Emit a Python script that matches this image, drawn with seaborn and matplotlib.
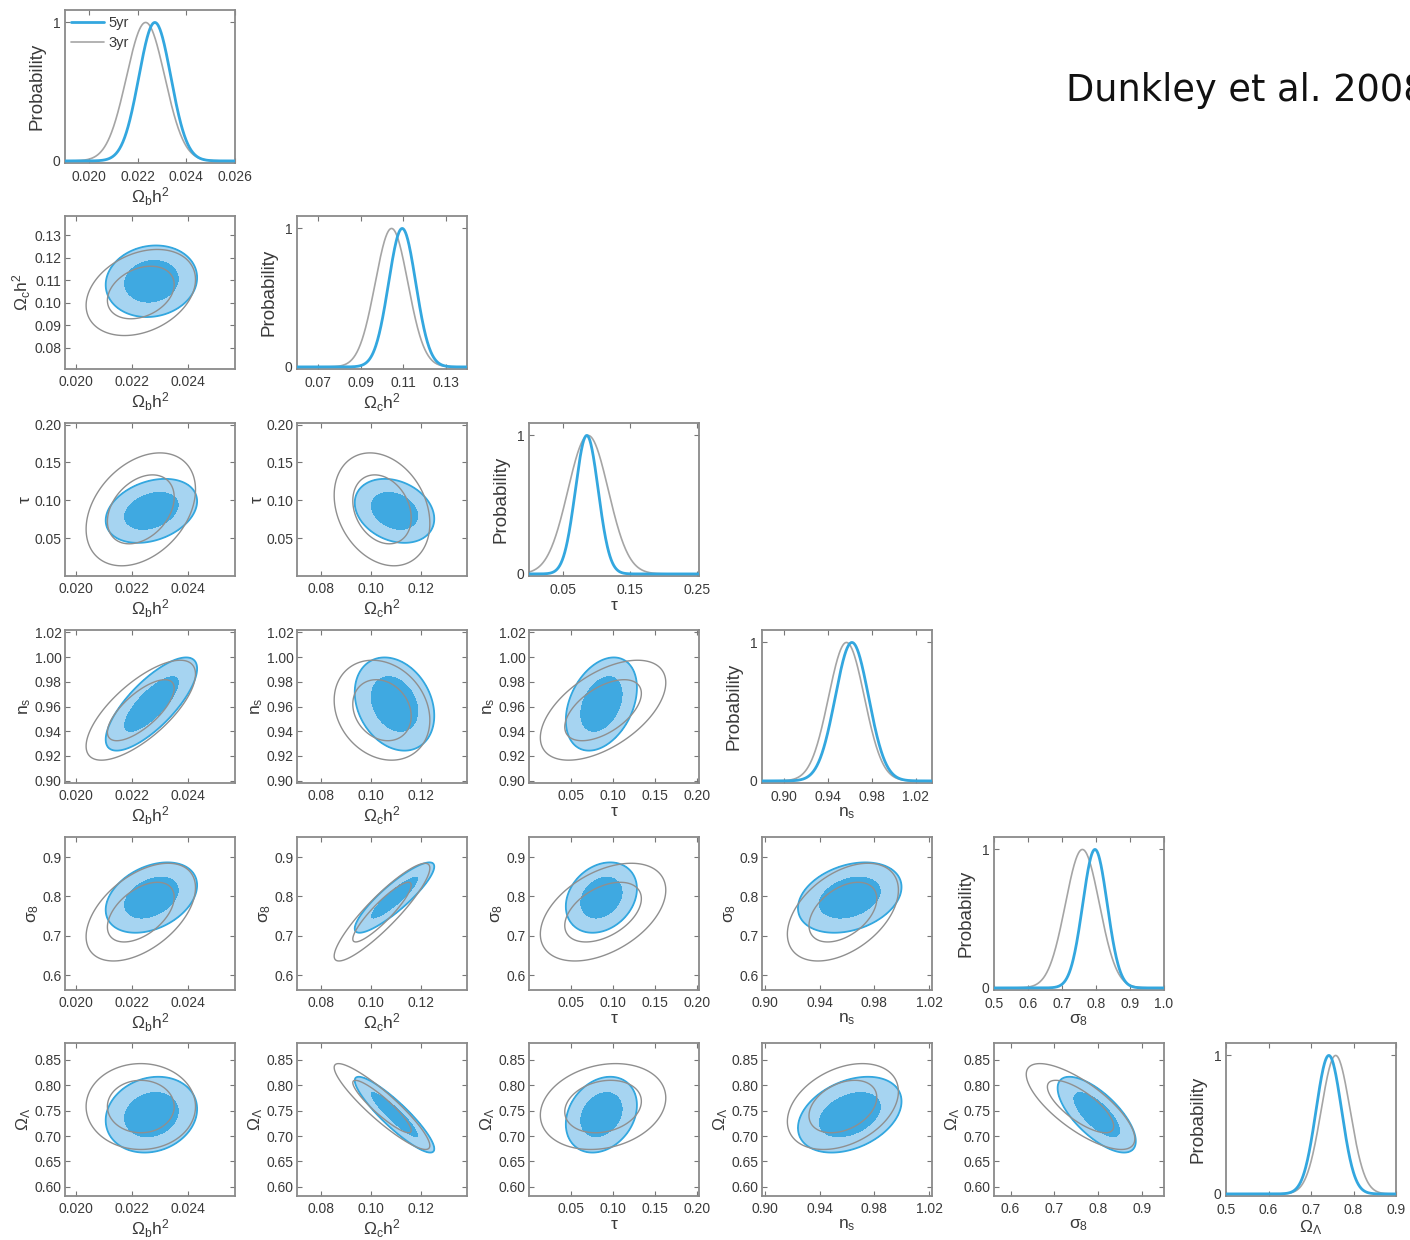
import numpy as np
import matplotlib
matplotlib.use("Agg")
import matplotlib.pyplot as plt
import seaborn as sns

# ---------------- data ----------------
param_labels = [r"$\Omega_{\rm b}h^2$", r"$\Omega_{\rm c}h^2$", r"$\tau$",
                r"$n_{\rm s}$", r"$\sigma_8$", r"$\Omega_\Lambda$"]

mean_5yr = [0.02270, 0.1095, 0.086, 0.962, 0.797, 0.742]
sd_5yr = [0.00066, 0.0064, 0.017, 0.0152, 0.036, 0.030]
mean_3yr = [0.02232, 0.1045, 0.088, 0.957, 0.760, 0.758]
sd_3yr = [0.00079, 0.0077, 0.030, 0.0163, 0.050, 0.034]

# correlations for pairs (row, col): (1,0),(2,0),(2,1),(3,0),(3,1),(3,2),(4,0),...,(5,4)
corr_5yr = [0.10, 0.30, -0.25, 0.76, -0.25, 0.35, 0.35, 0.88, 0.25, 0.30,
            0.15, -0.90, 0.25, 0.35, -0.70]
corr_3yr = [0.30, 0.35, -0.25, 0.72, -0.20, 0.55, 0.50, 0.90, 0.45, 0.45,
            0.00, -0.91, 0.20, 0.35, -0.75]

range_2d = [(0.0196, 0.0257), (0.0705, 0.1385), (0.0, 0.202),
            (0.898, 1.022), (0.562, 0.951), (0.582, 0.883)]
range_1d = [(0.019, 0.026), (0.060, 0.140), (0.0, 0.253),
            (0.880, 1.035), (0.5, 1.0), (0.5, 0.9)]

xticks_2d = [[0.020, 0.022, 0.024], [0.08, 0.10, 0.12], [0.05, 0.10, 0.15, 0.20],
             [0.90, 0.94, 0.98, 1.02], [0.6, 0.7, 0.8, 0.9], []]
xticklabels_2d = [["0.020", "0.022", "0.024"], ["0.08", "0.10", "0.12"],
                  ["0.05", "0.10", "0.15", "0.20"], ["0.90", "0.94", "0.98", "1.02"],
                  ["0.6", "0.7", "0.8", "0.9"], []]
yticks_2d = [[], [0.08, 0.09, 0.10, 0.11, 0.12, 0.13], [0.05, 0.10, 0.15, 0.20],
             [0.90, 0.92, 0.94, 0.96, 0.98, 1.00, 1.02], [0.6, 0.7, 0.8, 0.9],
             [0.60, 0.65, 0.70, 0.75, 0.80, 0.85]]
yticklabels_2d = [[], ["0.08", "0.09", "0.10", "0.11", "0.12", "0.13"],
                  ["0.05", "0.10", "0.15", "0.20"],
                  ["0.90", "0.92", "0.94", "0.96", "0.98", "1.00", "1.02"],
                  ["0.6", "0.7", "0.8", "0.9"],
                  ["0.60", "0.65", "0.70", "0.75", "0.80", "0.85"]]
xticks_1d = [[0.020, 0.022, 0.024, 0.026], [0.07, 0.09, 0.11, 0.13], [0.05, 0.15, 0.25],
             [0.90, 0.94, 0.98, 1.02], [0.5, 0.6, 0.7, 0.8, 0.9, 1.0],
             [0.5, 0.6, 0.7, 0.8, 0.9]]
xticklabels_1d = [["0.020", "0.022", "0.024", "0.026"], ["0.07", "0.09", "0.11", "0.13"],
                  ["0.05", "0.15", "0.25"], ["0.90", "0.94", "0.98", "1.02"],
                  ["0.5", "0.6", "0.7", "0.8", "0.9", "1.0"],
                  ["0.5", "0.6", "0.7", "0.8", "0.9"]]
series_names = ["5yr", "3yr"]
citation = "Dunkley et al. 2008"

# ---------------- style ----------------
sns.set_style("ticks")
plt.rcParams["font.family"] = ["Liberation Sans", "DejaVu Sans"]
plt.rcParams["mathtext.fontset"] = "custom"
plt.rcParams["mathtext.rm"] = "Liberation Sans"
plt.rcParams["mathtext.it"] = "Liberation Sans"
plt.rcParams["mathtext.default"] = "regular"
plt.rcParams.update({
    "xtick.direction": "in", "ytick.direction": "in",
    "xtick.top": True, "ytick.right": True,
    "xtick.major.size": 3.5, "ytick.major.size": 3.5,
    "xtick.major.width": 0.8, "ytick.major.width": 0.8,
    "xtick.color": "#777777", "ytick.color": "#777777",
    "xtick.labelcolor": "#3a3a3a", "ytick.labelcolor": "#3a3a3a",
    "xtick.labelsize": 10, "ytick.labelsize": 10,
    "axes.edgecolor": "#8a8a8a", "axes.linewidth": 1.3,
    "axes.labelcolor": "#3a3a3a", "axes.labelsize": 12.5,
    "xtick.major.pad": 4.0, "ytick.major.pad": 2.5,
})

BLUE = "#33a7df"
DARK_FILL = "#3fa9e1"
LIGHT_FILL = "#a6d4f1"
GRAY = "#8f8f8f"
GRAY1D = "#a5a5a5"

W, H = 1410, 1240
fig = plt.figure(figsize=(W / 100, H / 100), dpi=100)
col_left = [65, 297, 529, 762, 994, 1226]
row_top = [10, 216, 423, 630, 837, 1043]
pw, ph = 170, 153


def make_ax(r, c):
    return fig.add_axes([col_left[c] / W, 1 - (row_top[r] + ph) / H, pw / W, ph / H])


def pair_index(i, j):
    return i * (i - 1) // 2 + j


def chi2_grid(X, Y, mx, my, sx, sy, rho):
    dx = (X - mx) / sx
    dy = (Y - my) / sy
    return (dx * dx - 2 * rho * dx * dy + dy * dy) / (1 - rho * rho)


n = len(param_labels)
for i in range(n):
    for j in range(i + 1):
        ax = make_ax(i, j)
        if i == j:
            lo, hi = range_1d[i]
            xs = np.linspace(lo, hi, 400)
            p5 = np.exp(-0.5 * ((xs - mean_5yr[i]) / sd_5yr[i]) ** 2)
            p3 = np.exp(-0.5 * ((xs - mean_3yr[i]) / sd_3yr[i]) ** 2)
            sns.lineplot(x=xs, y=p5, ax=ax, color=BLUE, linewidth=2.0,
                         label=series_names[0] if i == 0 else None, zorder=3)
            sns.lineplot(x=xs, y=p3, ax=ax, color=GRAY1D, linewidth=1.2,
                         label=series_names[1] if i == 0 else None, zorder=2)
            ax.set_xlim(lo, hi)
            ax.set_ylim(-0.015, 1.09)
            ax.set_xticks(xticks_1d[i])
            ax.set_xticklabels(xticklabels_1d[i])
            ax.set_yticks([0, 1])
            ax.set_yticklabels(["0", "1"])
            ax.tick_params(axis="x", pad=5.0)
            ax.tick_params(axis="y", pad=3.5)
            ax.set_ylabel("Probability", labelpad=5, fontsize=13.5)
            ax.set_xlabel(param_labels[i], labelpad=1)
            if i == 0:
                leg = ax.legend(loc="upper left", frameon=False, fontsize=10.5,
                                handlelength=2.3, handletextpad=0.3,
                                borderaxespad=0.2, labelspacing=0.45,
                                borderpad=0.2)
                for t in leg.get_texts():
                    t.set_color("#3a3a3a")
            elif ax.get_legend() is not None:
                ax.get_legend().remove()
        else:
            xr, yr = range_2d[j], range_2d[i]
            gx = np.linspace(xr[0], xr[1], 400)
            gy = np.linspace(yr[0], yr[1], 400)
            X, Y = np.meshgrid(gx, gy)
            k = pair_index(i, j)
            c5 = chi2_grid(X, Y, mean_5yr[j], mean_5yr[i], sd_5yr[j], sd_5yr[i], corr_5yr[k])
            c3 = chi2_grid(X, Y, mean_3yr[j], mean_3yr[i], sd_3yr[j], sd_3yr[i], corr_3yr[k])
            ax.contourf(X, Y, c5, levels=[0, 2.30, 6.17], colors=[DARK_FILL, LIGHT_FILL], zorder=1)
            ax.contour(X, Y, c5, levels=[6.17], colors=[BLUE], linewidths=1.3, zorder=2)
            ax.contour(X, Y, c3, levels=[2.30, 6.17], colors=[GRAY], linewidths=1.0, zorder=3)
            ax.set_xlim(*xr)
            ax.set_ylim(*yr)
            ax.set_xticks(xticks_2d[j])
            ax.set_xticklabels(xticklabels_2d[j])
            ax.set_yticks(yticks_2d[i])
            ax.set_yticklabels(yticklabels_2d[i])
            ax.set_xlabel(param_labels[j], labelpad=1)
            ax.set_ylabel(param_labels[i], labelpad=1)
        for s in ax.spines.values():
            s.set_visible(True)

fig.text(1066 / W, 1 - 101 / H, citation, fontsize=26.5, family="DejaVu Sans",
         color="#111111", ha="left", va="baseline")

fig.savefig("out.png", dpi=100)
